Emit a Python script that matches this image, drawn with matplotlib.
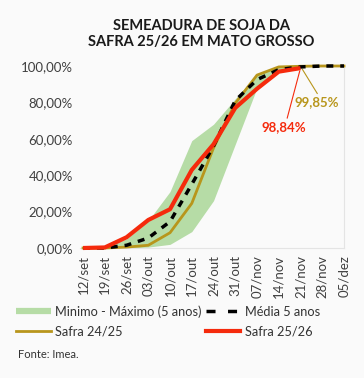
import matplotlib
matplotlib.use("Agg")
import matplotlib.pyplot as plt
import numpy as np
from matplotlib.lines import Line2D

plt.rcParams['font.family'] = ['Lato', 'DejaVu Sans']

semanas = ['12/set', '19/set', '26/set', '03/out', '10/out', '17/out', '24/out',
           '31/out', '07/nov', '14/nov', '21/nov', '28/nov', '05/dez']
minimo = [0, 0, 0, 0.5, 2, 9, 26, 57, 88, 98, 99.5, 100, 100]
maximo = [0, 0.5, 5, 15, 31, 59, 68, 82, 95.5, 99.5, 100, 100, 100]
media5 = [0, 0, 1.5, 5.5, 14.5, 35, 56, 81, 92.5, 98, 99.5, 100, 100]
safra2425 = [0, 0, 0.5, 1.5, 8.4, 24.5, 55, 79.5, 95, 99.5, 99.85, 100, 100]
safra2526 = [0, 0.3, 5.9, 15.4, 21.3, 42.9, 57, 77, 87.5, 96.9, 98.84]

verde = '#b6dca6'
ouro = '#b8961c'
vermelho = '#f52a0c'
cinza = '#404040'

x = np.arange(len(semanas))
fig = plt.figure(figsize=(3.64, 3.78), dpi=100, facecolor='#fafafa')
ax = fig.add_axes([80/364, 130/378, 264/364, 182/378])
ax.set_facecolor('#fafafa')

ax.fill_between(x, np.array(minimo)/100, np.array(maximo)/100, color=verde, lw=0)
ax.plot(x, np.array(safra2425)/100, color=ouro, lw=2, clip_on=False, zorder=3)
ax.plot(x, np.array(media5)/100, color='black', lw=2.5, dashes=(2.0, 2.0),
        clip_on=False, zorder=4)
ax.plot(x[:len(safra2526)], np.array(safra2526)/100, color=vermelho, lw=3,
        clip_on=False, zorder=5, solid_capstyle='butt')

ax.set_xlim(-0.14, 11.95)
ax.set_ylim(0, 1.0)
ax.set_yticks(np.arange(0, 1.01, 0.2))
ax.set_yticklabels([f'{v:.2f}%'.replace('.', ',') for v in np.arange(0, 101, 20)])
ax.set_xticks(x)
ax.set_xticklabels(semanas, rotation=90)
ax.tick_params(length=0, labelsize=9.5, colors=cinza, pad=5)
for s in ['top', 'left']:
    ax.spines[s].set_visible(False)
for s in ['bottom', 'right']:
    ax.spines[s].set_color('#e4e4e4')
    ax.spines[s].set_linewidth(0.8)

ax.annotate('99,85%', xy=(x[10], safra2425[10]/100), xytext=(10.75, 0.80),
            ha='center', va='center', color=ouro, fontsize=9.5, fontweight='bold',
            arrowprops=dict(arrowstyle='-', color=ouro, lw=0.8, shrinkA=0, shrinkB=2,
                            relpos=(0.55, 1)))
ax.annotate('98,84%', xy=(x[10], safra2526[10]/100), xytext=(9.25, 0.665),
            ha='center', va='center', color=vermelho, fontsize=9.5, fontweight='bold',
            arrowprops=dict(arrowstyle='-', color=vermelho, lw=0.8, shrinkA=0, shrinkB=2,
                            relpos=(0.55, 1)))

fig.text(0.553, 0.91, 'SEMEADURA DE SOJA DA\nSAFRA 25/26 EM MATO GROSSO',
         ha='center', va='center', fontsize=10.5, fontweight='bold', color='#1a1a1a',
         linespacing=1.2)

handles = [Line2D([], [], color=verde, lw=4.5, solid_capstyle='butt'),
           Line2D([], [], color=ouro, lw=2),
           Line2D([], [], color='black', lw=2.5, dashes=(2.6, 3.6)),
           Line2D([], [], color=vermelho, lw=3)]
labels = ['Minimo - Máximo (5 anos)', 'Safra 24/25', 'Média 5 anos', 'Safra 25/26']
fig.legend(handles, labels, ncol=2, loc='upper left', bbox_to_anchor=(0.045, 0.193),
           frameon=False, fontsize=9.2, handlelength=2.7,
           handletextpad=0.35, columnspacing=0.3, labelspacing=0.6,
           labelcolor='#333333', borderaxespad=0, borderpad=0)

fig.text(18/364, 1 - 355/378, 'Fonte: Imea.', ha='left', va='center',
         fontsize=8, color='#333333')

fig.savefig('out.png', dpi=100, facecolor=fig.get_facecolor())
